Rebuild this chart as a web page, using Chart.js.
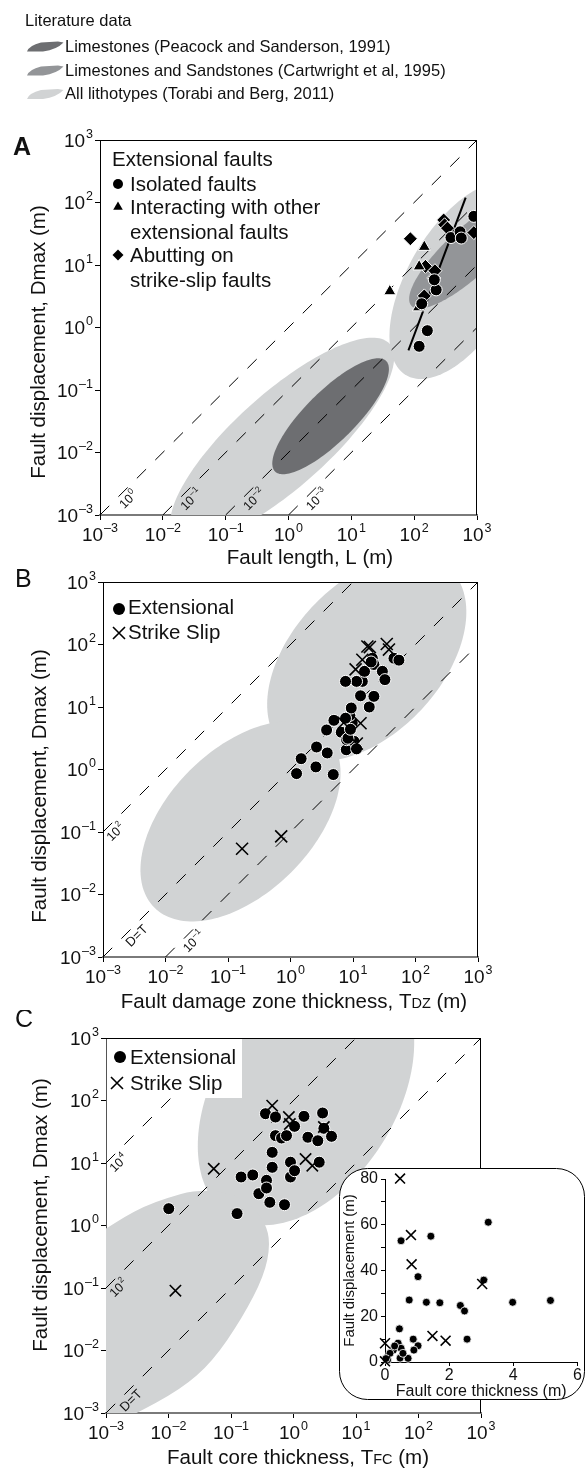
<!DOCTYPE html>
<html>
<head>
<meta charset="utf-8">
<script src="https://cdn.jsdelivr.net/npm/chart.js@4.4.1/dist/chart.umd.min.js"></script>
<style>
  body { margin: 0; background: #fff; width: 586px; height: 1469px; position: relative; overflow: hidden; }
  .box { position: absolute; left: 0; }
</style>
</head>
<body>
<div class="box" style="top:0;width:586px;height:575px"><canvas id="panelA"></canvas></div>
<div class="box" style="top:565px;width:586px;height:455px"><canvas id="panelB"></canvas></div>
<div class="box" style="top:1010px;width:586px;height:459px"><canvas id="panelC"></canvas></div>
<div class="box" style="left:336px;top:1162px;width:250px;height:245px"><canvas id="inset"></canvas></div>
<script>
const FONT = 'Arial, "Liberation Sans", Helvetica, sans-serif';
const DARK = '#6d6e71', MID = '#939598', LIGHT = '#d1d3d4';

const decades = [1e-3, 1e-2, 1e-1, 1, 10, 100, 1000];
const decadeExps = [-3, -2, -1, 0, 1, 2, 3];

// A - fault length L (m) vs Dmax (m)
const isolatedA = [[120, 0.50], [162, 0.89], [132, 2.4], [224, 4.0], [209, 5.8], [385, 27.5], [537, 34], [562, 27], [891, 60]];
const interactingA = [[41, 3.8], [117, 2.1], [120, 9.5], [145, 19.5]];
const abuttingA = [[87, 26.3], [145, 3.2], [151, 9.5], [205, 6.2], [214, 8.1], [295, 52.5], [305, 44], [339, 38.9], [891, 33]];
const fitLineA = [[81, 0.43], [660, 120]];
const ratiosA = [1, 0.1, 0.01, 0.001];
const ratioLabelsA = ['10^0', '10^-1', '10^-2', '10^-3'];

// literature fields, log10 units: centre, half axes, tilt in degrees
const torabiA = [{cx: -0.1, cy: -1.8, a: 2.3, b: 0.75, tilt: 42}, {cx: 2.75, cy: 0.75, a: 1.75, b: 0.85, tilt: 60}];
const cartwrightA = [{cx: 2.87, cy: 1.2, a: 1.25, b: 0.38, tilt: 43}];
const peacockA = [{cx: 0.67, cy: -1.42, a: 1.25, b: 0.40, tilt: 45}];

// B - damage zone thickness Tdz (m) vs Dmax (m)
const extensionalB = [[1.25, 0.86], [1.48, 1.49], [2.61, 2.29], [2.55, 1.10], [3.87, 1.84], [4.83, 0.83], [3.78, 4.29],
  [4.95, 6.12], [6.49, 3.94], [7.80, 2.07], [7.89, 3.0], [10.4, 2.82], [11.4, 2.14], [9.73, 5.55], [8.91, 7.36],
  [9.38, 9.64], [7.59, 6.61], [18.2, 10.0], [21.6, 14.8], [13.2, 15.1], [14.1, 25.7], [11.4, 25.7], [7.59, 25.7],
  [15.3, 37.2], [20.4, 60.3], [21.6, 47.9], [29.5, 37.2], [32.4, 27.4], [45.2, 60.3], [54.3, 56.2], [8.3, 3.16],
  [9.1, 4.4], [19.5, 52.5]];
const strikeSlipB = [[0.168, 0.054], [0.71, 0.085], [17.0, 93], [18.6, 91], [34.7, 102], [37.6, 83], [14.1, 57],
  [11.0, 40], [13.2, 5.5], [7.1, 5.6], [11.5, 2.6]];
const ratiosB = [100, 1, 0.1];
const ratioLabelsB = ['10^2', 'D=T', '10^-1'];
const torabiB = [{cx: 1.22, cy: 1.78, a: 1.95, b: 1.2, tilt: 47}, {cx: -0.8, cy: -0.83, a: 1.95, b: 1.15, tilt: 45}];

// C - core thickness Tfc (m) vs Dmax (m)
const extensionalC = [[0.0101, 1.86], [0.125, 1.55], [0.145, 5.97], [0.223, 6.43], [0.279, 3.23], [0.37, 5.28],
  [0.37, 3.98], [0.418, 2.35], [0.356, 61.5], [0.515, 54.4], [0.515, 27.4], [0.643, 25.1], [0.773, 27.4],
  [0.456, 14.8], [0.456, 8.53], [0.895, 10.3], [0.895, 5.97], [1.04, 7.53], [1.04, 38.6], [0.718, 2.15],
  [1.47, 55.8], [1.70, 25.8], [2.45, 22.7], [2.92, 63.1], [3.06, 35.9], [4.06, 26.7], [2.58, 10.3]];
const strikeSlipC = [[0.0129, 0.0906], [0.053, 8.1], [0.456, 82.6], [0.843, 54.4], [0.875, 42.1], [1.56, 11.6],
  [2.0, 9.06], [3.06, 37.7]];
const ratiosC = [1e4, 100, 1];
const ratioLabelsC = ['10^4', '10^2', 'D=T'];
const torabiC = [{cx: 0.2, cy: 2.1, a: 2.3, b: 1.45, tilt: 58}];
// lower field of panel C traced as an outline, log10 units
const torabiCLow = [[-3.5, -0.35], [-3.0, -0.05], [-2.7, 0.14], [-2.4, 0.3], [-2.0, 0.45], [-1.6, 0.56], [-1.1, 0.55],
  [-0.7, 0.35], [-0.45, 0.05], [-0.37, -0.3], [-0.47, -0.8], [-0.82, -1.48], [-1.3, -2.18], [-1.8, -2.62],
  [-2.6, -3.05], [-3.5, -3.5]];

// inset - linear core thickness (m) vs displacement (m)
const insetExtensional = [[0.50, 53.0], [1.43, 55.0], [3.22, 61.1], [1.03, 37.3], [3.08, 35.8], [0.755, 27.1],
  [1.29, 26.1], [1.71, 25.9], [2.35, 24.7], [2.48, 22.3], [3.98, 26.1], [5.16, 26.9], [0.45, 14.5], [0.88, 10.0],
  [1.03, 7.1], [0.90, 5.2], [0.41, 8.2], [0.50, 6.0], [0.26, 5.2], [0.30, 7.0], [0.155, 3.8], [0.47, 1.7],
  [0.72, 1.6], [0.08, 0.9], [0.03, 1.5], [0.56, 3.8], [2.56, 10.0]];
const insetStrikeSlip = [[0.47, 80.2], [0.81, 55.5], [0.83, 42.7], [3.03, 34.1], [1.48, 11.4], [1.89, 9.3], [0.0, 8.2], [0.0, 0.3]];

Chart.defaults.font.family = FONT;
Chart.defaults.color = '#111';

function markers(arr, style, r, cross) {
  return {
    data: arr.map(p => ({x: p[0], y: p[1]})),
    pointStyle: style, pointRadius: r,
    backgroundColor: '#000',
    borderColor: cross ? '#000' : '#fff',
    borderWidth: cross ? 1.6 : 1
  };
}

function lineSet(arr, dash, width) {
  return {
    data: arr.map(p => ({x: p[0], y: p[1]})),
    showLine: true, pointRadius: 0, borderColor: '#000', borderWidth: width, borderDash: dash
  };
}

function ratioLine(k) {
  const x0 = Math.max(1e-3, 1e-3 / k), x1 = Math.min(1e3, 1e3 / k);
  return lineSet([[x0, k * x0], [x1, k * x1]], [13, 13], 1);
}

function ellipsePath(ctx, chart, e) {
  const sx = chart.scales.x, sy = chart.scales.y;
  const t0 = e.tilt * Math.PI / 180;
  ctx.beginPath();
  for (let i = 0; i <= 160; i++) {
    const t = i / 160 * Math.PI * 2;
    const u = e.a * Math.cos(t), v = e.b * Math.sin(t);
    const lx = e.cx + u * Math.cos(t0) - v * Math.sin(t0);
    const ly = e.cy + u * Math.sin(t0) + v * Math.cos(t0);
    const px = sx.getPixelForValue(Math.pow(10, lx)), py = sy.getPixelForValue(Math.pow(10, ly));
    if (i === 0) ctx.moveTo(px, py); else ctx.lineTo(px, py);
  }
  ctx.closePath();
}

function outlinePath(ctx, chart, pts) {
  const sx = chart.scales.x, sy = chart.scales.y;
  const p = pts.map(q => [sx.getPixelForValue(Math.pow(10, q[0])), sy.getPixelForValue(Math.pow(10, q[1]))]);
  const n = p.length, mid = (a, b) => [(a[0] + b[0]) / 2, (a[1] + b[1]) / 2];
  const m = mid(p[n - 1], p[0]);
  ctx.beginPath();
  ctx.moveTo(m[0], m[1]);
  for (let i = 0; i < n; i++) {
    const q = mid(p[i], p[(i + 1) % n]);
    ctx.quadraticCurveTo(p[i][0], p[i][1], q[0], q[1]);
  }
  ctx.closePath();
}

function drawRegions(chart, regions) {
  const {ctx, chartArea: ca} = chart;
  ctx.save();
  ctx.beginPath();
  ctx.rect(ca.left, ca.top, ca.right - ca.left, ca.bottom - ca.top);
  ctx.clip();
  regions.forEach(([list, color, outline]) => {
    ctx.fillStyle = color;
    if (outline) { outlinePath(ctx, chart, list); ctx.fill(); }
    else list.forEach(e => { ellipsePath(ctx, chart, e); ctx.fill(); });
  });
  ctx.restore();
}

function drawPow(ctx, exp, x, y, align, size, sup) {
  const e = String(exp).replace('-', '\u2013');
  ctx.font = size + 'px ' + FONT;
  const wb = ctx.measureText('10').width;
  ctx.font = sup + 'px ' + FONT;
  const ws = ctx.measureText(e).width;
  const w = wb + ws + 1;
  const x0 = align === 'right' ? x - w : x - w / 2;
  ctx.textAlign = 'left';
  ctx.textBaseline = 'alphabetic';
  ctx.font = size + 'px ' + FONT;
  ctx.fillText('10', x0, y);
  ctx.font = sup + 'px ' + FONT;
  ctx.fillText(e, x0 + wb + 1, y - size * 0.45);
}

function drawFrame(chart) {
  const {ctx, chartArea: ca} = chart;
  ctx.save();
  ctx.strokeStyle = '#000';
  ctx.lineWidth = 1;
  ctx.beginPath();
  ctx.moveTo(ca.left, ca.top + 0.5);
  ctx.lineTo(ca.right - 0.5, ca.top + 0.5);
  ctx.lineTo(ca.right - 0.5, ca.bottom);
  ctx.stroke();
  ctx.restore();
}

function drawDecadeLabels(chart) {
  const {ctx, chartArea: ca} = chart;
  ctx.save();
  ctx.fillStyle = '#111';
  decadeExps.forEach((e, i) => {
    drawPow(ctx, e, chart.scales.x.getPixelForValue(decades[i]), ca.bottom + 26, 'center', 19, 12.5);
    drawPow(ctx, e, ca.left - 7, chart.scales.y.getPixelForValue(decades[i]) + 6.5, 'right', 19, 12.5);
  });
  ctx.restore();
}

// labels sit along each ratio line, d decades in from where it enters the plot
function drawRatioLabels(chart, ratios, labels, dist) {
  const {ctx} = chart;
  ratios.forEach((k, i) => {
    const lk = Math.log10(k);
    const lx = Math.max(-3, -3 - lk) + dist[i];
    const px = chart.scales.x.getPixelForValue(Math.pow(10, lx)) + 6;
    const py = chart.scales.y.getPixelForValue(Math.pow(10, lx + lk)) + 6;
    ctx.save();
    ctx.translate(px, py);
    ctx.rotate(-Math.PI / 4);
    ctx.fillStyle = '#111';
    if (labels[i].startsWith('10^')) {
      drawPow(ctx, labels[i].slice(3), 0, 4.5, 'center', 12.5, 8.5);
    } else {
      ctx.font = '13px ' + FONT;
      ctx.textAlign = 'center';
      ctx.textBaseline = 'alphabetic';
      ctx.fillText(labels[i], 0, 4.5);
    }
    ctx.restore();
  });
}

function marker(ctx, style, x, y, r) {
  ctx.save();
  ctx.fillStyle = '#000';
  ctx.strokeStyle = '#000';
  ctx.lineWidth = 1.6;
  ctx.beginPath();
  if (style === 'circle') { ctx.arc(x, y, r, 0, Math.PI * 2); ctx.fill(); }
  else if (style === 'triangle') { ctx.moveTo(x, y - r); ctx.lineTo(x + r * 0.87, y + r * 0.5); ctx.lineTo(x - r * 0.87, y + r * 0.5); ctx.fill(); }
  else if (style === 'diamond') { ctx.moveTo(x, y - r); ctx.lineTo(x + r, y); ctx.lineTo(x, y + r); ctx.lineTo(x - r, y); ctx.fill(); }
  else { ctx.moveTo(x - r, y - r); ctx.lineTo(x + r, y + r); ctx.moveTo(x + r, y - r); ctx.lineTo(x - r, y + r); ctx.stroke(); }
  ctx.restore();
}

function text(ctx, s, x, y, size, align, bold) {
  ctx.font = (bold ? 'bold ' : '') + size + 'px ' + FONT;
  ctx.textAlign = align || 'left';
  ctx.textBaseline = 'alphabetic';
  ctx.fillStyle = '#111';
  ctx.fillText(s, x, y);
}

// parts: [text, size] pieces drawn side by side, centred on cx
function titleParts(ctx, parts, cx, y, rotate) {
  ctx.save();
  let w = 0;
  parts.forEach(([s, size]) => { ctx.font = size + 'px ' + FONT; w += ctx.measureText(s).width; });
  if (rotate) { ctx.translate(cx, y); ctx.rotate(-Math.PI / 2); cx = 0; y = 0; }
  let x = cx - w / 2;
  parts.forEach(([s, size]) => {
    text(ctx, s, x, y, size, 'left');
    ctx.font = size + 'px ' + FONT;
    x += ctx.measureText(s).width;
  });
  ctx.restore();
}

function swatch(ctx, x, yb, color) {
  ctx.save();
  ctx.fillStyle = color;
  ctx.beginPath();
  ctx.moveTo(x, yb);
  ctx.quadraticCurveTo(x + 2, yb - 6, x + 14, yb - 9);
  ctx.lineTo(x + 31, yb - 10);
  ctx.lineTo(x + 36.5, yb - 9);
  ctx.quadraticCurveTo(x + 30, yb - 2, x + 16, yb);
  ctx.closePath();
  ctx.fill();
  ctx.restore();
}

function makePanel(id, cfg) {
  const logAxis = (pos, size, border) => ({
    type: 'logarithmic', min: 1e-3, max: 1e3, position: pos,
    afterBuildTicks: s => { s.ticks = decades.map(v => ({value: v})); },
    afterFit: s => { if (pos === 'bottom') s.height = size; else s.width = size; },
    ticks: {display: false},
    grid: {drawOnChartArea: false, drawTicks: true, tickLength: 5, color: '#000', lineWidth: 1},
    border: {display: true, color: border, width: pos === 'bottom' ? 2 : 1}
  });
  return new Chart(document.getElementById(id), {
    type: 'scatter',
    data: {datasets: cfg.datasets},
    options: {
      responsive: true,
      maintainAspectRatio: false,
      animation: false,
      devicePixelRatio: 1,
      events: [],
      layout: {padding: cfg.pad},
      plugins: {legend: {display: false}, tooltip: {enabled: false}},
      scales: {
        x: logAxis('bottom', cfg.xHeight, cfg.xBorder),
        y: logAxis('left', cfg.yWidth, cfg.yBorder)
      }
    },
    plugins: [{
      id: 'panelDecor',
      beforeDatasetsDraw(chart) { drawRegions(chart, cfg.regions); },
      afterDraw(chart) {
        drawFrame(chart);
        drawDecadeLabels(chart);
        cfg.decorate(chart, chart.ctx);
      }
    }]
  });
}

makePanel('panelA', {
  pad: {left: 0, right: 109, top: 140, bottom: 0}, yWidth: 100, xHeight: 60, xBorder: '#7a7a7a', yBorder: '#000',
  datasets: [
    markers(isolatedA, 'circle', 6),
    markers(interactingA, 'triangle', 7),
    markers(abuttingA, 'rectRot', 7),
    lineSet(fitLineA, [], 2),
    ...ratiosA.map(ratioLine)
  ],
  regions: [[torabiA, LIGHT], [cartwrightA, MID], [peacockA, DARK]],
  decorate(chart, ctx) {
    drawRatioLabels(chart, ratiosA, ratioLabelsA, [0.35, 0.35, 0.35, 0.35]);
    text(ctx, 'Literature data', 25, 26, 16.5);
    [['Limestones (Peacock and Sanderson, 1991)', DARK, 51.5],
     ['Limestones and Sandstones (Cartwright et al, 1995)', MID, 75.5],
     ['All lithotypes (Torabi and Berg, 2011)', LIGHT, 99]].forEach(([s, c, y]) => {
      swatch(ctx, 27, y, c);
      text(ctx, s, 65, y, 16.5);
    });
    text(ctx, 'A', 13, 155, 25, 'left', true);
    text(ctx, 'Extensional faults', 112, 166, 20.5);
    [['circle', 184, 'Isolated faults'], ['triangle', 207, 'Interacting with other'], [null, 232, 'extensional faults'],
     ['diamond', 255, 'Abutting on'], [null, 280, 'strike-slip faults']].forEach(([m, y, s]) => {
      if (m) marker(ctx, m, 118, y, m === 'circle' ? 5 : 5.5);
      text(ctx, s, 130, y + 7, 20.5);
    });
    titleParts(ctx, [['Fault length, L (m)', 20.5]], 310, 564);
    titleParts(ctx, [['Fault displacement, Dmax (m)', 20.5]], 45, 342, true);
  }
});

makePanel('panelB', {
  pad: {left: 0, right: 108, top: 17, bottom: 0}, yWidth: 103, xHeight: 63, xBorder: '#7a7a7a', yBorder: '#000',
  datasets: [
    markers(strikeSlipB, 'crossRot', 8.5, true),
    markers(extensionalB, 'circle', 6),
    ...ratiosB.map(ratioLine)
  ],
  regions: [[torabiB, LIGHT]],
  decorate(chart, ctx) {
    drawRatioLabels(chart, ratiosB, ratioLabelsB, [0.1, 0.44, 0.35]);
    text(ctx, 'B', 15, 22, 25);
    marker(ctx, 'circle', 119, 44, 6);
    text(ctx, 'Extensional', 128, 49, 20.5);
    marker(ctx, 'cross', 119, 68, 6);
    text(ctx, 'Strike Slip', 128, 74, 20.5);
    titleParts(ctx, [['Fault damage zone thickness, T', 20.5], ['DZ', 14.5], [' (m)', 20.5]], 294, 443);
    titleParts(ctx, [['Fault displacement, Dmax (m)', 20.5]], 46, 221, true);
  }
});

makePanel('panelC', {
  pad: {left: 0, right: 105, top: 28, bottom: 0}, yWidth: 106, xHeight: 56, xBorder: '#7a7a7a', yBorder: '#555',
  datasets: [
    markers(strikeSlipC, 'crossRot', 8, true),
    markers(extensionalC, 'circle', 6),
    ...ratiosC.map(ratioLine)
  ],
  regions: [[torabiC, LIGHT], [torabiCLow, LIGHT, true]],
  decorate(chart, ctx) {
    drawRatioLabels(chart, ratiosC, ratioLabelsC, [0.1, 0.1, 0.3]);
    text(ctx, 'C', 15, 17, 25);
    ctx.fillStyle = '#fff';
    ctx.fillRect(107, 29, 135, 59);
    marker(ctx, 'circle', 120, 47, 6);
    text(ctx, 'Extensional', 130, 54, 20.5);
    marker(ctx, 'cross', 117, 73, 6);
    text(ctx, 'Strike Slip', 130, 80, 20.5);
    titleParts(ctx, [['Fault core thickness, T', 20.5], ['FC', 14.5], [' (m)', 20.5]], 298, 454);
    titleParts(ctx, [['Fault displacement, Dmax (m)', 20.5]], 46.5, 205, true);
  }
});

new Chart(document.getElementById('inset'), {
  type: 'scatter',
  data: {
    datasets: [
      Object.assign(markers(insetStrikeSlip, 'crossRot', 7, true), {clip: false}),
      Object.assign(markers(insetExtensional, 'circle', 4), {clip: false, borderWidth: 0.8})
    ]
  },
  options: {
    responsive: true,
    maintainAspectRatio: false,
    animation: false,
    devicePixelRatio: 1,
    events: [],
    layout: {padding: {left: 0, right: 8, top: 17, bottom: 0}},
    plugins: {legend: {display: false}, tooltip: {enabled: false}},
    scales: {
      x: {
        type: 'linear', min: 0, max: 6,
        afterFit: s => { s.height = 45; },
        ticks: {stepSize: 2, font: {size: 16}, padding: 0},
        grid: {drawOnChartArea: false, tickLength: 4, color: '#000'},
        border: {color: '#000', width: 1},
        title: {display: true, text: 'Fault core thickness (m)', font: {size: 16}, padding: {top: 0, bottom: 6}}
      },
      y: {
        type: 'linear', min: 0, max: 80,
        afterFit: s => { s.width = 49; },
        ticks: {stepSize: 10, font: {size: 16}, padding: 3, callback: v => (v % 20 === 0 ? v : '')},
        grid: {drawOnChartArea: false, tickLength: 4, color: '#000'},
        border: {color: '#000', width: 1},
        title: {display: true, text: 'Fault displacement (m)', font: {size: 15}, padding: {top: 5, bottom: 0}}
      }
    }
  },
  plugins: [{
    id: 'insetBox',
    beforeDraw(chart) {
      const ctx = chart.ctx;
      ctx.save();
      ctx.beginPath();
      ctx.roundRect(3.5, 6.5, 245, 231, 28);
      ctx.fillStyle = '#fff';
      ctx.fill();
      ctx.strokeStyle = '#000';
      ctx.lineWidth = 1;
      ctx.stroke();
      ctx.restore();
    }
  }]
});
</script>
</body>
</html>
